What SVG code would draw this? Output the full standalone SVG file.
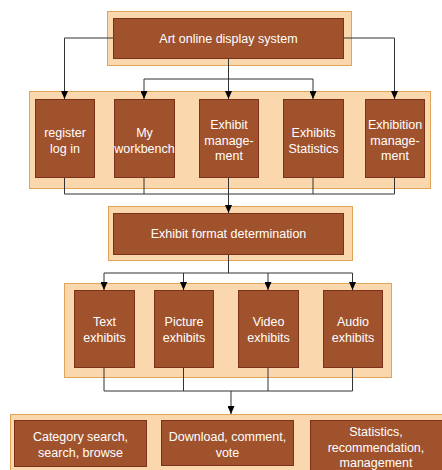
<svg xmlns="http://www.w3.org/2000/svg" width="442" height="470" viewBox="0 0 442 470">
  <style>
    .panel { fill: #fad7ac; stroke: #e0a458; stroke-width: 1; }
    .box { fill: #a0522d; stroke: #7a3318; stroke-width: 1; }
    .lbl { fill: #ffffff; font-family: "Liberation Sans", Arial, sans-serif; font-size: 12.5px; text-anchor: middle; }
    .wire { fill: none; stroke: #333333; stroke-width: 1; }
  </style>
  <defs>
    <marker id="arrow" viewBox="0 0 8 8" refX="8" refY="4" markerWidth="8" markerHeight="7" markerUnits="userSpaceOnUse" orient="auto" preserveAspectRatio="none">
      <path d="M0,0 L8,4 L0,8 Z" fill="#000000"/>
    </marker>
  </defs>

  <rect width="442" height="470" fill="#ffffff"/>

  <!-- panels behind each row -->
  <g id="panels">
    <rect class="panel" x="107.5" y="11.5" width="244" height="54"/>
    <rect class="panel" x="29.5" y="91.5" width="401" height="97"/>
    <rect class="panel" x="108.5" y="206.5" width="244" height="54"/>
    <rect class="panel" x="64.5" y="283.5" width="327" height="94"/>
    <rect class="panel" x="10.5" y="414.5" width="440" height="70"/>
  </g>

  <g id="connectors">
    <!-- root to modules -->
    <path class="wire" d="M113,38 H64.5 V99" marker-end="url(#arrow)"/>
    <path class="wire" d="M343,38 H394.5 V99" marker-end="url(#arrow)"/>
    <path class="wire" d="M228.5,58 V99" marker-end="url(#arrow)"/>
    <path class="wire" d="M228.5,79 H144 V99" marker-end="url(#arrow)"/>
    <path class="wire" d="M228.5,79 H313 V99" marker-end="url(#arrow)"/>
    <!-- modules merge into format determination -->
    <path class="wire" d="M64.5,177 V194 H394.5 V177"/>
    <path class="wire" d="M144,177 V194 M313,177 V194"/>
    <path class="wire" d="M228.5,177 V213" marker-end="url(#arrow)"/>
    <!-- format determination to exhibit types -->
    <path class="wire" d="M228.5,254 V273"/>
    <path class="wire" d="M104,273 H352.5"/>
    <path class="wire" d="M104,273 V290" marker-end="url(#arrow)"/>
    <path class="wire" d="M183.5,273 V290" marker-end="url(#arrow)"/>
    <path class="wire" d="M268,273 V290" marker-end="url(#arrow)"/>
    <path class="wire" d="M352.5,273 V290" marker-end="url(#arrow)"/>
    <!-- exhibit types merge into services -->
    <path class="wire" d="M104,367 V391 H352.5 V367"/>
    <path class="wire" d="M183.5,367 V391 M268,367 V391"/>
    <path class="wire" d="M231,391 V414" marker-end="url(#arrow)"/>
  </g>

  <g id="root">
    <rect class="box" x="113.5" y="18.5" width="230" height="40"/>
    <text class="lbl" x="228.5" y="42.5">Art online display system</text>
  </g>

  <g id="register">
    <rect class="box" x="35.5" y="99.5" width="59" height="78"/>
    <text class="lbl" x="65" y="137">register</text>
    <text class="lbl" x="65" y="152.5">log in</text>
  </g>
  <g id="workbench">
    <rect class="box" x="114.5" y="99.5" width="60" height="78"/>
    <text class="lbl" x="144.5" y="137">My</text>
    <text class="lbl" x="144.5" y="152.5">workbench</text>
  </g>
  <g id="exhibit-mgmt">
    <rect class="box" x="199.5" y="99.5" width="59" height="78"/>
    <text class="lbl" x="229" y="129">Exhibit</text>
    <text class="lbl" x="229" y="144.5">manage-</text>
    <text class="lbl" x="229" y="160">ment</text>
  </g>
  <g id="exhibit-stats">
    <rect class="box" x="283.5" y="99.5" width="60" height="78"/>
    <text class="lbl" x="313.5" y="137">Exhibits</text>
    <text class="lbl" x="313.5" y="152.5">Statistics</text>
  </g>
  <g id="exhibition-mgmt">
    <rect class="box" x="365.5" y="99.5" width="59" height="78"/>
    <text class="lbl" x="395" y="129">Exhibition</text>
    <text class="lbl" x="395" y="144.5">manage-</text>
    <text class="lbl" x="395" y="160">ment</text>
  </g>

  <g id="format">
    <rect class="box" x="113.5" y="213.5" width="230" height="41"/>
    <text class="lbl" x="228.5" y="238">Exhibit format determination</text>
  </g>

  <g id="text-exhibits">
    <rect class="box" x="74.5" y="290.5" width="60" height="77"/>
    <text class="lbl" x="104.5" y="326">Text</text>
    <text class="lbl" x="104.5" y="341.5">exhibits</text>
  </g>
  <g id="picture-exhibits">
    <rect class="box" x="154.5" y="290.5" width="59" height="77"/>
    <text class="lbl" x="184" y="326">Picture</text>
    <text class="lbl" x="184" y="341.5">exhibits</text>
  </g>
  <g id="video-exhibits">
    <rect class="box" x="238.5" y="290.5" width="60" height="77"/>
    <text class="lbl" x="268.5" y="326">Video</text>
    <text class="lbl" x="268.5" y="341.5">exhibits</text>
  </g>
  <g id="audio-exhibits">
    <rect class="box" x="323.5" y="290.5" width="59" height="77"/>
    <text class="lbl" x="353" y="326">Audio</text>
    <text class="lbl" x="353" y="341.5">exhibits</text>
  </g>

  <g id="search">
    <rect class="box" x="14.5" y="420.5" width="132" height="46"/>
    <text class="lbl" x="80.5" y="441">Category search,</text>
    <text class="lbl" x="80.5" y="456.5">search, browse</text>
  </g>
  <g id="interaction">
    <rect class="box" x="161.5" y="420.5" width="132" height="45"/>
    <text class="lbl" x="227.5" y="441">Download, comment,</text>
    <text class="lbl" x="227.5" y="456.5">vote</text>
  </g>
  <g id="statistics">
    <rect class="box" x="310.5" y="420.5" width="132" height="60"/>
    <text class="lbl" x="376" y="436">Statistics,</text>
    <text class="lbl" x="376" y="451.5">recommendation,</text>
    <text class="lbl" x="376" y="467">management</text>
  </g>
</svg>
